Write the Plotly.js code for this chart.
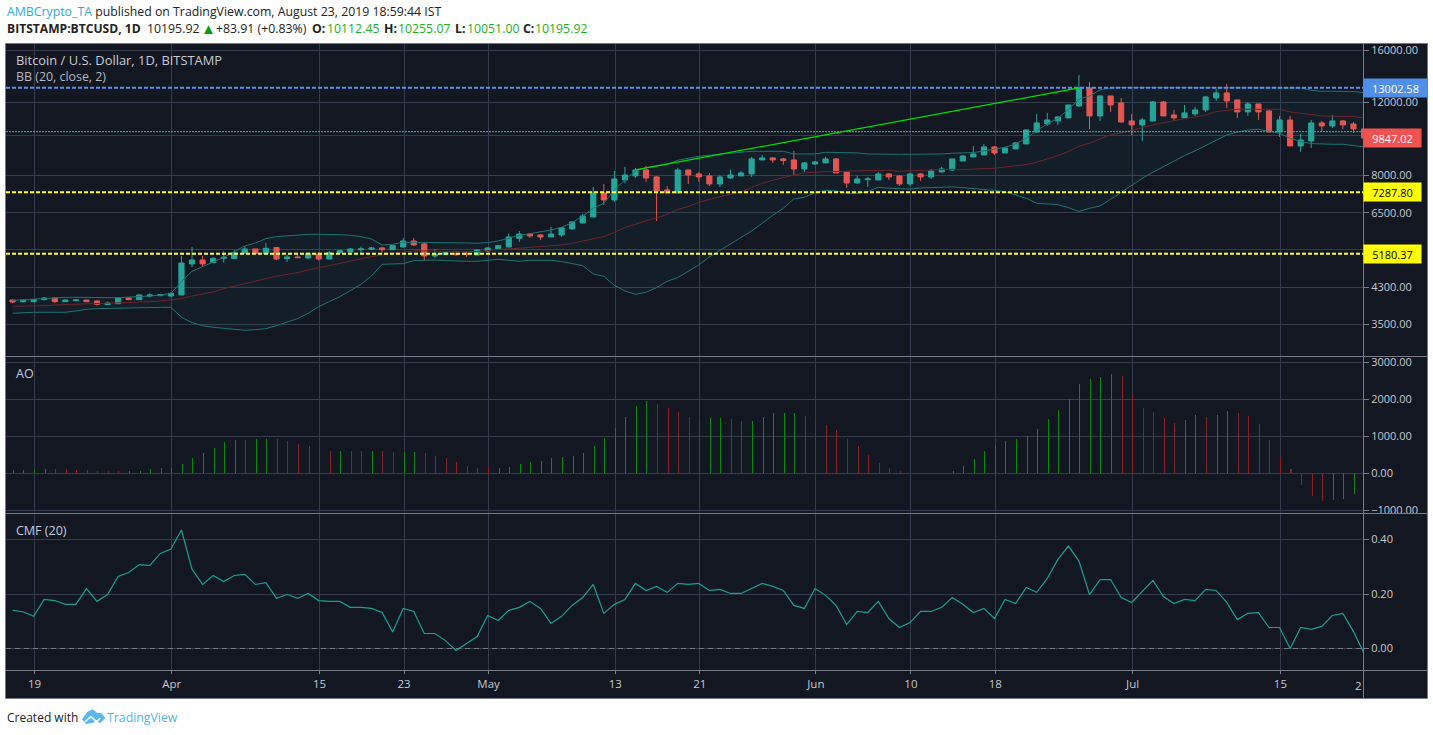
<!DOCTYPE html>
<html><head><meta charset="utf-8">
<script src="https://cdn.plot.ly/plotly-3.0.1.min.js"></script>
<style>html,body{margin:0;padding:0;background:#fff}#c{width:1433px;height:735px}</style>
</head><body><div id="c"></div>
<script>
const startDate = '2019-03-17';
const open = [4010,3973,3973,4018,4055,3973,3995,4010,3988,3907,3929,4055,4018,4100,4108,4100,4123,4897,5006,4933,5053,5044,5205,5322,5186,5362,5044,5091,5062,5176,5034,5215,5234,5302,5312,5352,5302,5381,5563,5472,5119,5157,5195,5195,5147,5263,5322,5381,5646,5782,5751,5688,5751,5945,6147,6356,7260,6983,7802,7978,8247,7934,7381,7260,8247,8067,7978,7631,7890,7978,8067,8718,8816,8767,8718,8293,8525,8575,8767,8157,7672,7816,7802,8067,7978,7631,8067,7934,8157,8247,8670,8865,8963,9370,9064,9267,9527,10183,10644,10823,11006,11762,12997,11128,12433,11960,10823,10585,10823,12027,11189,11006,11252,11504,12293,12642,12160,11378,11892,11441,10183,10883,9421,9685,10704,10527,10823,10644,10352];
const high = [4010,4032,4018,4078,4070,4025,4032,4010,4003,3973,4063,4070,4131,4161,4138,4184,5119,5381,5119,5081,5253,5292,5401,5322,5502,5381,5147,5157,5215,5225,5253,5292,5352,5391,5381,5391,5451,5657,5657,5533,5312,5225,5215,5253,5312,5371,5441,5803,5880,5814,5772,6012,6012,6204,6461,7506,7631,8202,8386,8340,8433,7978,7547,8340,8247,8157,8112,8007,8247,8202,8865,8963,8865,8816,9165,8623,8670,8865,8816,8157,7993,7934,8157,8112,8022,8112,8112,8293,8386,8767,8963,9422,9527,9422,9370,9616,10315,11252,11315,11128,11827,13968,13437,12501,12433,12293,11252,11006,12093,12093,11504,11827,11698,12433,12925,13286,12160,12027,11892,11504,11128,11128,10069,10883,10823,11189,10883,10764,10352];
const low = [3944,3951,3966,4003,3944,3966,3981,3973,3886,3900,3922,4010,4010,4070,4100,4085,4123,4816,4816,4924,4933,5034,5186,5195,5176,5006,4952,5062,5044,4988,5025,5195,5225,5195,5292,5225,5292,5371,5411,5006,5062,5147,5119,5091,5138,5253,5312,5371,5533,5657,5594,5688,5688,5935,6136,6344,6792,6909,7658,7887,7719,6216,7260,7260,7631,7719,7547,7506,7846,7978,7934,8718,8575,8479,8022,8157,8479,8575,8112,7464,7631,7506,7802,7802,7547,7547,7760,7846,8127,8202,8670,8849,8947,8963,9047,9267,9527,10124,10527,10585,11006,11698,10352,10823,11378,10704,10014,9685,10823,11128,10823,11006,11128,11378,12093,11633,11006,11128,10883,10127,9905,9421,9114,9319,10221,10409,10352,10127,9845];
const close = [3966,4003,4018,4055,3973,4010,4010,3973,3915,3944,4055,4018,4123,4123,4131,4161,4924,5006,4897,5053,5081,5215,5322,5195,5342,5034,5091,5072,5195,5034,5215,5273,5322,5322,5352,5302,5421,5563,5441,5119,5176,5215,5157,5176,5292,5352,5421,5688,5782,5720,5688,5782,5980,6182,6391,7260,6983,7846,8022,8247,7887,7340,7260,8247,8022,7934,7631,7934,8022,8112,8767,8816,8718,8686,8293,8575,8623,8767,8112,7672,7846,7846,8067,7934,7631,8067,7934,8202,8293,8767,8912,9013,9370,9064,9319,9580,10296,10704,10883,11067,11827,12997,11128,12433,11827,10764,10585,10883,12027,11128,11006,11315,11504,12365,12642,12093,11378,11892,11378,10183,10883,9421,9740,10704,10527,10823,10585,10352,9845];
const bbUpper = [4003,4018,4032,4055,4070,4070,4070,4063,4063,4063,4063,4070,4085,4100,4123,4161,4440,4702,4825,4942,5081,5244,5411,5502,5636,5699,5730,5751,5772,5772,5772,5762,5741,5699,5625,5441,5461,5523,5523,5523,5523,5523,5513,5502,5492,5513,5563,5646,5741,5793,5848,5913,6001,6159,6391,6668,6856,7381,7802,8217,8355,8433,8510,8702,8799,8898,8947,8997,9047,9097,9148,9148,9148,9148,9013,9030,9013,9097,9097,9080,9064,9013,8997,8997,8997,8997,8997,8997,9013,9047,9080,9080,9165,9267,9353,9527,9830,10258,10644,10985,11547,12204,12433,12853,12997,13021,13021,13045,13045,13045,13045,13045,13045,13021,13021,13021,13045,13045,13021,13021,13021,13021,12997,12830,12760,12760,12760,12737,12666];
const bbMiddle = [3872,3872,3872,3886,3900,3907,3915,3922,3922,3929,3937,3944,3951,3973,3988,4010,4040,4100,4146,4192,4271,4326,4399,4440,4514,4573,4616,4667,4736,4798,4852,4906,4970,5044,5100,5147,5195,5234,5263,5273,5263,5253,5253,5244,5244,5273,5312,5322,5342,5371,5391,5401,5441,5492,5553,5636,5699,5835,5990,6102,6227,6320,6449,6631,6730,6894,7008,7112,7205,7300,7478,7658,7788,7919,8022,8112,8157,8172,8172,8172,8202,8217,8232,8232,8187,8202,8232,8262,8262,8278,8262,8278,8309,8324,8386,8433,8494,8606,8750,8930,9131,9405,9562,9812,10032,10127,10258,10431,10585,10724,10823,10963,11067,11189,11399,11483,11547,11547,11547,11547,11547,11378,11291,11169,11128,11108,11108,11087,11006];
const bbLower = [3725,3739,3746,3746,3746,3746,3773,3808,3822,3829,3836,3843,3843,3850,3850,3850,3643,3537,3478,3447,3428,3409,3390,3402,3421,3478,3543,3616,3725,3865,3973,4085,4225,4374,4581,4888,4897,4906,4988,4997,5006,4988,4970,4970,4970,5006,5025,4997,4970,4997,4997,4997,4961,4915,4852,4633,4573,4350,4216,4138,4184,4295,4448,4540,4693,4870,5091,5282,5461,5678,5880,6136,6414,6668,7021,7086,7273,7367,7340,7246,7246,7313,7492,7450,7422,7422,7464,7478,7492,7506,7478,7422,7394,7367,7313,7179,7047,6856,6817,6805,6693,6546,6668,6755,7008,7287,7589,7873,8142,8402,8686,8930,9165,9439,9740,10014,10164,10296,10334,10240,10107,9830,9652,9545,9510,9510,9510,9457,9370];
const aoValues = [90,90,117,117,117,117,90,90,63,63,63,63,63,117,144,144,252,414,550,685,847,901,901,928,928,928,874,793,739,658,604,604,604,604,604,604,577,577,577,550,468,414,306,198,144,144,144,171,252,306,333,414,441,468,550,739,955,1225,1523,1820,1955,1874,1766,1658,1523,1414,1495,1495,1468,1414,1414,1523,1631,1631,1631,1550,1387,1306,1171,928,739,495,279,144,63,9,5,-36,-36,63,198,387,604,766,874,928,1009,1198,1468,1712,2009,2414,2550,2604,2685,2631,2117,1766,1658,1495,1360,1441,1577,1523,1577,1685,1631,1550,1333,901,441,117,-315,-613,-748,-721,-694,-559];
const aoGreen = [1,1,1,1,0,0,0,0,0,0,0,1,1,1,1,1,1,1,1,1,1,1,0,1,1,0,0,0,0,0,0,1,0,0,1,0,0,1,1,0,0,0,0,0,0,0,1,1,1,1,1,1,1,1,1,1,1,1,1,1,1,0,0,0,0,0,1,1,0,0,1,1,1,1,1,0,0,0,0,0,0,0,0,0,0,0,0,0,0,1,1,1,1,1,1,1,1,1,1,1,1,1,1,1,1,0,0,0,0,0,0,1,1,0,1,1,0,0,0,0,0,0,0,0,0,1,1,1];
const cmfValues = [.140,.135,.118,.180,.176,.162,.162,.220,.173,.198,.264,.279,.308,.305,.349,.365,.435,.291,.235,.268,.246,.268,.272,.235,.242,.184,.198,.184,.202,.176,.173,.173,.151,.151,.147,.132,.061,.147,.136,.055,.055,.029,-.007,.018,.044,.121,.103,.140,.151,.173,.147,.092,.118,.158,.187,.235,.129,.162,.180,.239,.213,.228,.206,.239,.235,.239,.213,.217,.202,.202,.220,.239,.228,.213,.158,.147,.220,.195,.158,.088,.136,.132,.173,.110,.077,.095,.136,.136,.151,.187,.162,.132,.147,.110,.180,.165,.224,.206,.257,.327,.376,.321,.198,.253,.253,.187,.169,.209,.250,.191,.165,.180,.176,.217,.213,.169,.106,.129,.132,.077,.077,.000,.077,.070,.081,.121,.129,.062,-.018];
const levelBlue = 13002.58, levelYellow1 = 7287.80, levelYellow2 = 5180.37, lastPrice = 10195.92, labelRed = 9847.02;
const trendDates = ['2019-05-14 22:00','2019-06-25 22:00'];
const trendValues = [8247,12997];
const priceTicks = [16000,12000,10000,8000,6500,5300,4300,3500];
const priceTickText = ['16000.00','12000.00','','8000.00','6500.00','','4300.00','3500.00'];
const aoTicks = [3000,2000,1000,0,-1000];
const aoTickText = ['3000.00','2000.00','1000.00','0.00','\u22121000.00'];
const cmfTicks = [0.4,0.2,0];
const cmfTickText = ['0.40','0.20','0.00'];
const xTicks = ['2019-03-19','2019-04-01','2019-04-15','2019-04-23','2019-05-01','2019-05-13','2019-05-21','2019-06-01','2019-06-10','2019-06-18','2019-07-01','2019-07-15'];
const xTickText = ['19','Apr','15','23','May','13','21','Jun','10','18','Jul','15'];

const dates = [], barDates = [];
{ const d0 = Date.parse(startDate+'T00:00:00Z');
  const iso = t => new Date(t).toISOString().slice(0,16).replace('T',' ');
  for (let i=0;i<close.length;i++){ dates.push(iso(d0+i*864e5-2*36e5)); barDates.push(iso(d0+i*864e5)); } }
const xStart='2019-03-16 07:10', xEnd='2019-07-22 19:40';
const FONT='"Open Sans", sans-serif', TXT='#c5c8d0', GRID='#363c4e', BORDER='#787b86';
const W=1433,H=735, px=x=>x/W, py=y=>1-y/H;
const flat=v=>[v,v];

const traces=[
 {type:'candlestick',x:dates,open,high,low,close,xaxis:'x',yaxis:'y',hoverinfo:'skip',showlegend:false,width:0.66*864e5,
  increasing:{line:{color:'#26a69a',width:1},fillcolor:'#26a69a'},decreasing:{line:{color:'#ef5350',width:1},fillcolor:'#ef5350'},whiskerwidth:0},
 {type:'scatter',mode:'lines',x:dates,y:bbUpper,line:{color:'#1c7570',width:1},hoverinfo:'skip',showlegend:false},
 {type:'scatter',mode:'lines',x:dates,y:bbLower,line:{color:'#1c7570',width:1},fill:'tonexty',fillcolor:'rgba(38,166,154,0.055)',hoverinfo:'skip',showlegend:false},
 {type:'scatter',mode:'lines',x:dates,y:bbMiddle,line:{color:'#6e2328',width:1},hoverinfo:'skip',showlegend:false},
 {type:'scatter',mode:'lines',x:[xStart,xEnd],y:flat(lastPrice),line:{color:'#3fb0a5',width:1,dash:'2px,1px'},hoverinfo:'skip',showlegend:false},
 {type:'scatter',mode:'lines',x:[xStart,xEnd],y:flat(levelBlue),line:{color:'#5b8fe6',width:2,dash:'4px,2px'},hoverinfo:'skip',showlegend:false},
 {type:'scatter',mode:'lines',x:[xStart,xEnd],y:flat(levelYellow1),line:{color:'#ffff33',width:2,dash:'4px,2px'},hoverinfo:'skip',showlegend:false},
 {type:'scatter',mode:'lines',x:[xStart,xEnd],y:flat(levelYellow2),line:{color:'#ffff33',width:2,dash:'4px,2px'},hoverinfo:'skip',showlegend:false},
 {type:'scatter',mode:'lines',x:trendDates,y:trendValues,line:{color:'#00e000',width:1.3},hoverinfo:'skip',showlegend:false},
 {type:'bar',x:barDates.slice(0,aoValues.length),y:aoValues,yaxis:'y2',width:0.095*864e5,marker:{color:aoGreen.map(g=>g?'#0a8a14':'#8b2226'),line:{width:0}},hoverinfo:'skip',showlegend:false},
 {type:'scatter',mode:'lines',x:[xStart,xEnd],y:[0,0],yaxis:'y3',line:{color:'#787878',width:1,dash:'5px,4px'},hoverinfo:'skip',showlegend:false},
 {type:'scatter',mode:'lines',x:dates,y:cmfValues,yaxis:'y3',line:{color:'#16a08f',width:1.2},hoverinfo:'skip',showlegend:false}
];
const yCommon={side:'right',anchor:'x',tickmode:'array',gridcolor:GRID,gridwidth:1,zeroline:false,showline:false,ticks:'outside',ticklen:5,tickcolor:BORDER,tickwidth:1,
  tickfont:{family:FONT,size:11,color:TXT},fixedrange:true};
const label=(text,val,bg,fg,wd)=>({xref:'paper',yref:'y',x:px(1363),y:Math.log10(val),xanchor:'left',yanchor:'middle',text:text,showarrow:false,bgcolor:bg,width:wd,height:18,borderpad:0,align:'center',font:{family:FONT,size:11,color:fg}});
const note=(text,x,y,size,color)=>({xref:'paper',yref:'paper',x:px(x),y:py(y),xanchor:'left',yanchor:'middle',text:text,showarrow:false,align:'left',borderpad:0,font:{family:FONT,size:size,color:color}});
const poly=(pts,fill,stroke)=>({type:'path',xref:'paper',yref:'paper',path:pts.map((p,i)=>(i?'L':'M')+px(p[0])+' '+py(p[1])).join(' ')+(fill?' Z':''),fillcolor:fill||'rgba(0,0,0,0)',line:{color:stroke||fill,width:stroke?1.5:0}});
const HEAD='#222222', UP='#1db01d', HS=12.3;
const layout={width:W,height:H,margin:{l:0,r:0,t:0,b:0},paper_bgcolor:'#ffffff',plot_bgcolor:'rgba(0,0,0,0)',showlegend:false,bargap:0,dragmode:false,
 xaxis:{type:'date',domain:[px(6),px(1363)],range:[xStart,xEnd],anchor:'y3',tickmode:'array',tickvals:xTicks,ticktext:xTickText,gridcolor:GRID,gridwidth:1,zeroline:false,showline:false,ticks:'outside',ticklen:3,tickcolor:BORDER,
   tickfont:{family:FONT,size:11.5,color:TXT},rangeslider:{visible:false},fixedrange:true},
 yaxis:Object.assign({},yCommon,{type:'log',domain:[py(356),py(44)],range:[3.4683,4.2196],tickvals:priceTicks,ticktext:priceTickText}),
 yaxis2:Object.assign({},yCommon,{domain:[py(513),py(357)],range:[-1081,3149],tickvals:aoTicks,ticktext:aoTickText}),
 yaxis3:Object.assign({},yCommon,{domain:[py(670),py(514)],range:[-0.0789,0.4936],tickvals:cmfTicks,ticktext:cmfTickText}),
 shapes:[
  {type:'rect',xref:'paper',yref:'paper',x0:px(5.5),x1:px(1427.5),y0:py(698.5),y1:py(43.5),fillcolor:'#131722',line:{color:BORDER,width:1},layer:'below'},
  {type:'line',xref:'paper',yref:'paper',x0:px(6),x1:px(1427),y0:py(356.5),y1:py(356.5),line:{color:BORDER,width:1}},
  {type:'line',xref:'paper',yref:'paper',x0:px(6),x1:px(1427),y0:py(513.5),y1:py(513.5),line:{color:BORDER,width:1}},
  {type:'line',xref:'paper',yref:'paper',x0:px(6),x1:px(1427),y0:py(670.5),y1:py(670.5),line:{color:BORDER,width:1}},
  {type:'line',xref:'paper',yref:'paper',x0:px(1363.5),x1:px(1363.5),y0:py(698),y1:py(44),line:{color:BORDER,width:1}},
  poly([[82,719.3],[87.3,712],[92.7,709.3],[97,712.7],[101.7,713.3],[105.3,718.3],[100,723.3],[96,720],[93.3,722.7],[86,724]],'#5cb8ec'),
  poly([[85,721.7],[90.7,716.7],[96.7,721.7],[100,718.3]],null,'#ffffff')
 ],
 annotations:[
  label('13002.58',levelBlue,'#4f8fea','#ffffff',63),
  label('9847.02',labelRed,'#ef5350','#ffffff',57),
  label('7287.80',levelYellow1,'#ffff00','#000000',57),
  label('5180.37',levelYellow2,'#ffff00','#000000',57),
  note('Bitcoin / U.S. Dollar, 1D, BITSTAMP',15,60,12.9,'#c8cbd3'),
  note('BB (20, close, 2)',15,77,12.4,'#b5b8c0'),
  note('AO',15,373,12.5,'#c8cbd3'),
  note('CMF (20)',15,530,12.5,'#c8cbd3'),
  {xref:'paper',yref:'paper',x:px(1363),y:py(685),xanchor:'right',yanchor:'middle',text:'2',showarrow:false,borderpad:0,font:{family:FONT,size:11.5,color:TXT}},
  note('<span style="color:#35a7dd">AMBCrypto_TA</span> published on TradingView.com, August 23, 2019 18:59:44 IST',6,12,HS,HEAD),
  note('<b>BITSTAMP:BTCUSD, 1D</b>',6,29,HS-0.2,HEAD),
  note('10195.92',146,29,HS,HEAD),
  note('\u25B2',200,28,15,'#0a9e0a'),
  note('+83.91 (+0.83%)',215,29,HS,HEAD),
  note('<b>O:</b>',311,29,HS,HEAD), note('10112.45',326,29,HS,UP),
  note('<b>H:</b>',383,29,HS,HEAD), note('10255.07',397,29,HS,UP),
  note('<b>L:</b>',454,29,HS,HEAD), note('10051.00',466,29,HS,UP),
  note('<b>C:</b>',522,29,HS,HEAD), note('10195.92',534,29,HS,UP),
  note('Created with',6,717,12,'#222222'),
  note('TradingView',106,717,12.3,'#4db7ea')
 ]
};
Plotly.newPlot('c',traces,layout,{staticPlot:true,displayModeBar:false});
</script></body></html>
